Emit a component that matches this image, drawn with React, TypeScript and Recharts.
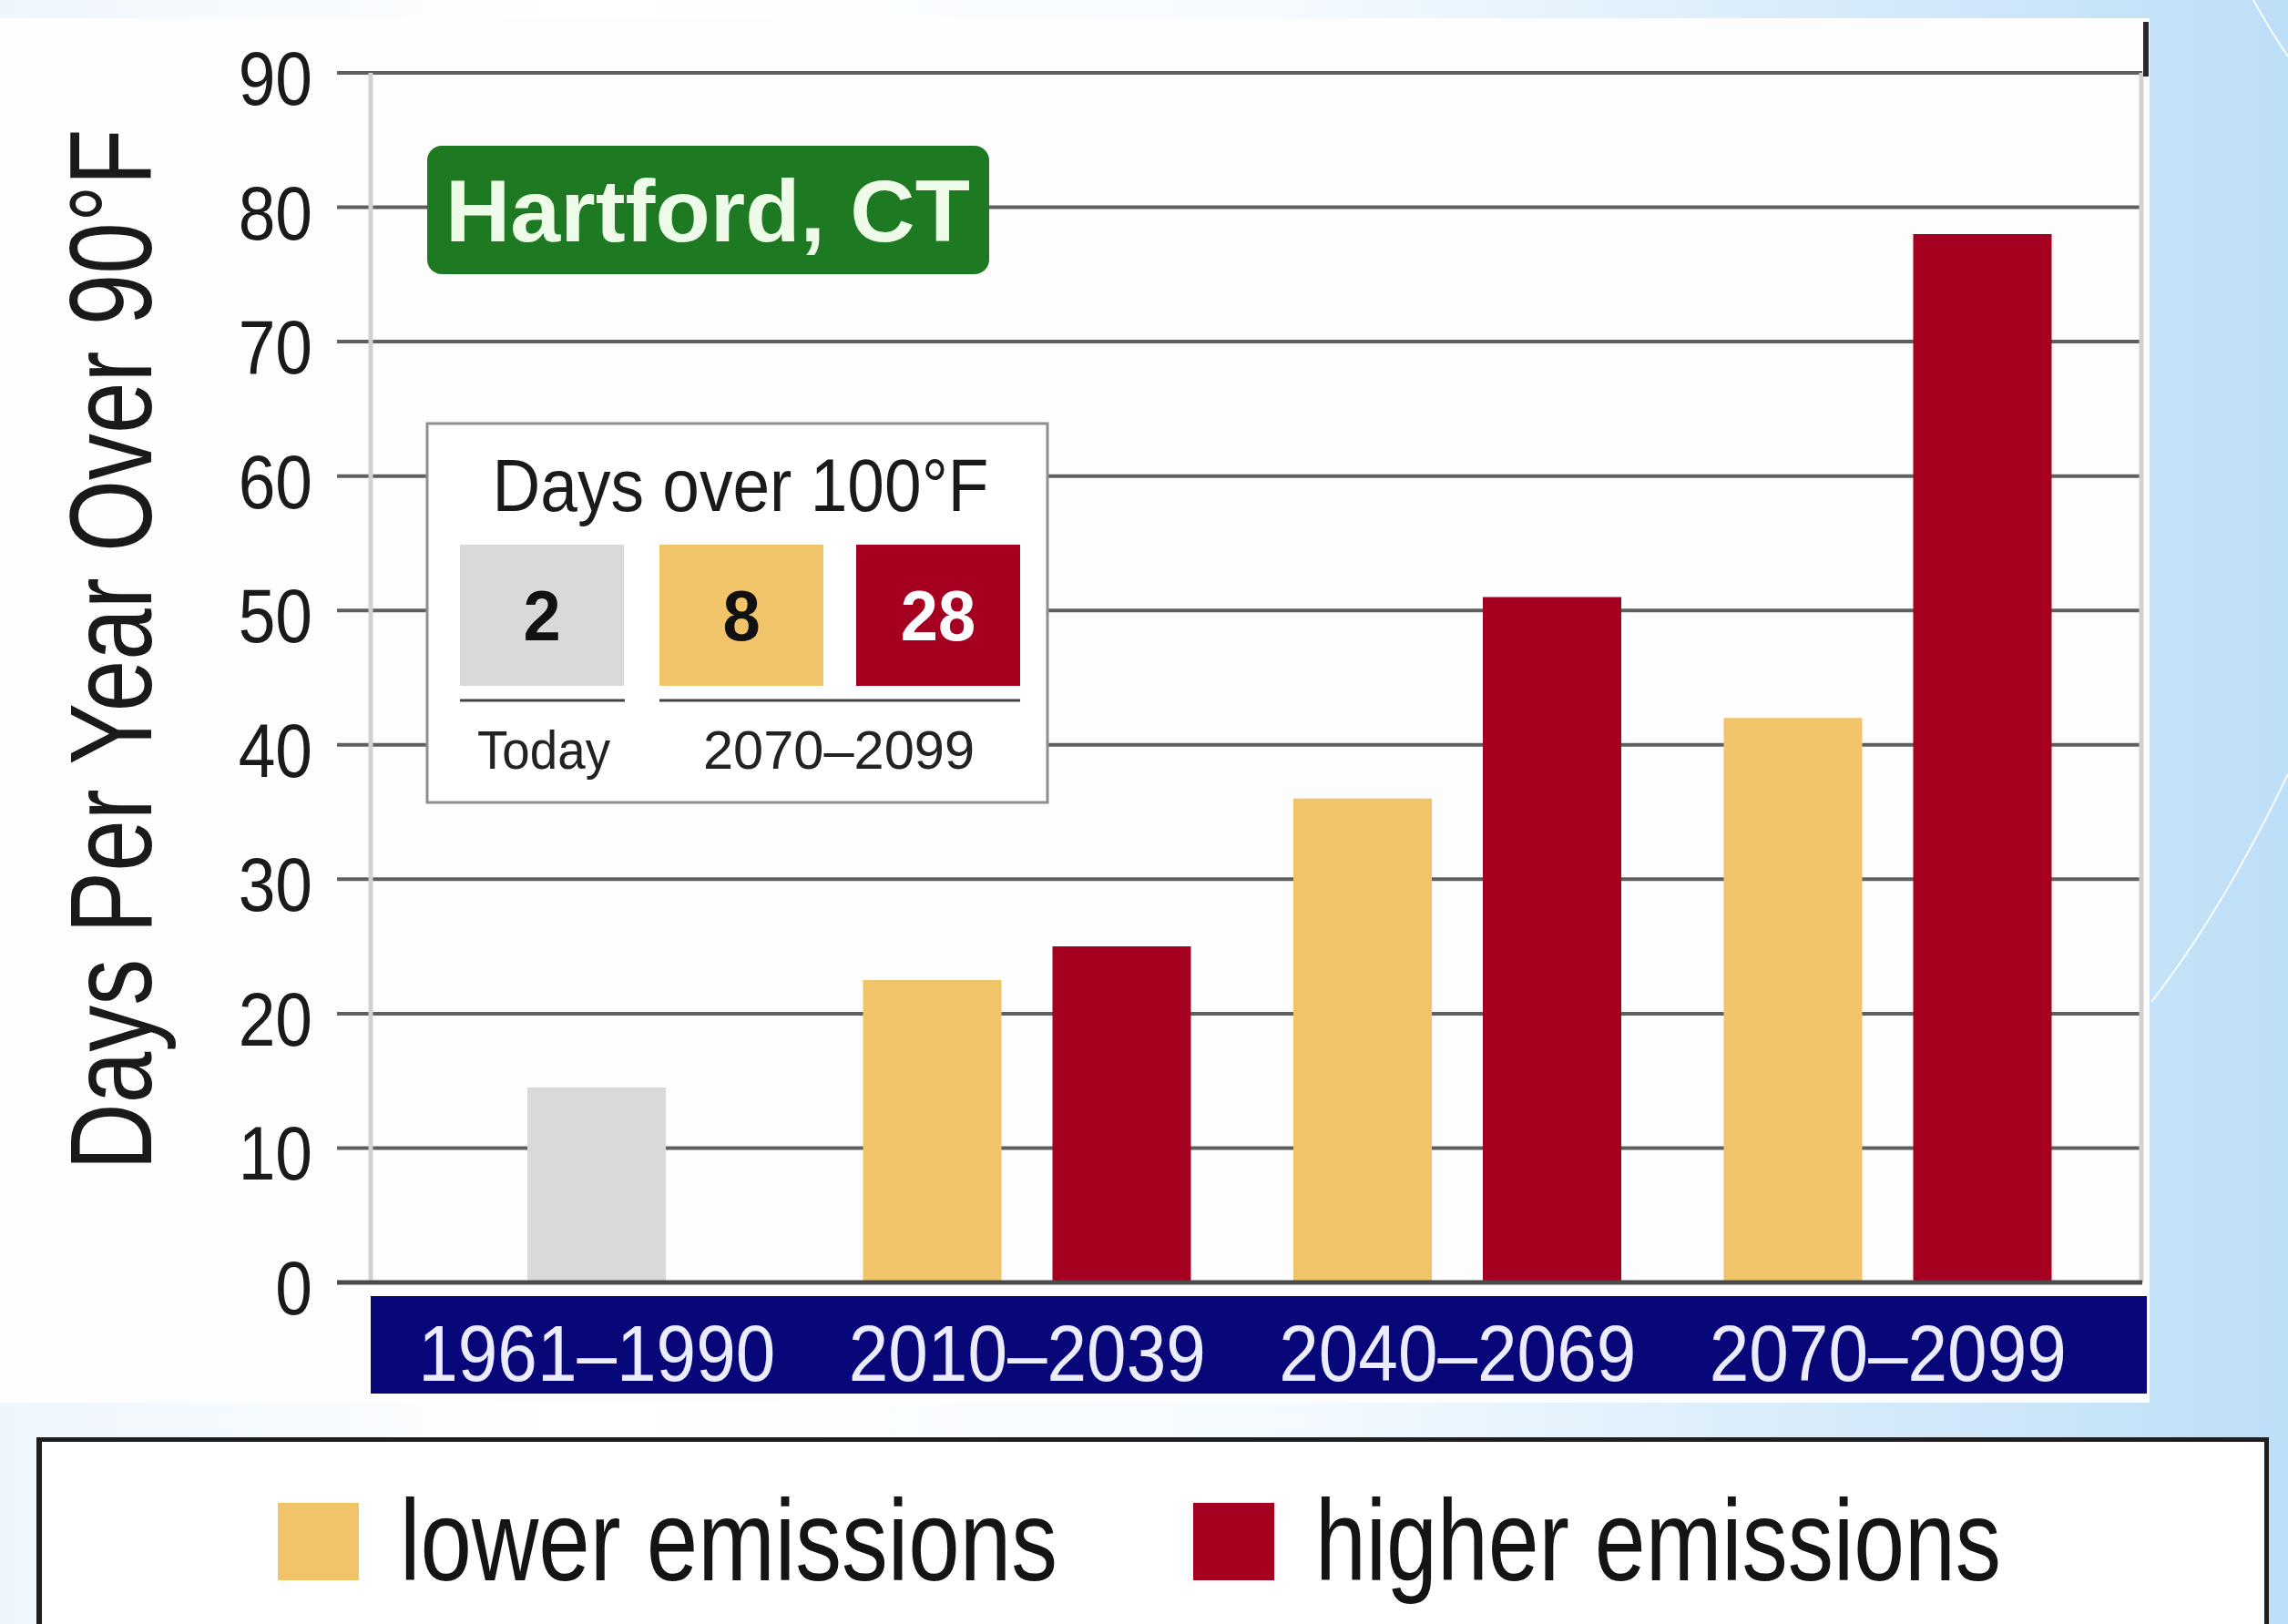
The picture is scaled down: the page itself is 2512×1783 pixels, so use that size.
import React from 'react';
import { BarChart, Bar, XAxis, YAxis, CartesianGrid, Legend, Label } from 'recharts';

// Hartford, CT: days per year over 90°F by period and emissions scenario
const periods = ['1961–1990', '2010–2039', '2040–2069', '2070–2099'];
const baselineDays = [14.5, null, null, null];
const lowerEmissions = [null, 22.5, 36, 42];
const higherEmissions = [null, 25, 51, 78];
const yTicks = [0, 10, 20, 30, 40, 50, 60, 70, 80, 90];

// inset: days over 100°F
const hotDayValues = [2, 8, 28];
const hotDayGroups = ['Today', '2070–2099'];

const GRAY = '#d9d9d9';
const YELLOW = '#f1c46a';
const RED = '#a5001f';
const NAVY = '#07077a';
const GREEN = '#1e7a22';
const FONT = '"Liberation Sans", Arial, sans-serif';

// the original type is a condensed face; squeeze Liberation Sans horizontally
const squeeze = (x: number, k: number) => `translate(${x},0) scale(${k},1) translate(${-x},0)`;

const data = periods.map((period, i) => ({
  period,
  baseline: baselineDays[i],
  lower: lowerEmissions[i],
  higher: higherEmissions[i],
}));

const PeriodTick = (props: any) => {
  const { x, y, payload } = props;
  return (
    <text
      x={x}
      y={y + 106}
      textAnchor="middle"
      fill="#ececff"
      fontSize={88}
      fontFamily={FONT}
      textLength={392}
      lengthAdjust="spacingAndGlyphs"
    >
      {payload.value}
    </text>
  );
};

const ValueTick = (props: any) => {
  const { x, y, payload } = props;
  return (
    <text x={x} y={y} dy={35} textAnchor="end" fill="#1a1a1a" fontSize={84} fontFamily={FONT} transform={squeeze(x, 0.87)}>
      {payload.value}
    </text>
  );
};

const AxisTitle = (props: any) => {
  const { viewBox } = props;
  const cx = viewBox.x + 166;
  const cy = viewBox.y + viewBox.height / 2 - 31;
  return (
    <text
      x={cx}
      y={cy}
      transform={`rotate(-90, ${cx}, ${cy}) ${squeeze(cx, 0.795)}`}
      textAnchor="middle"
      fill="#1a1a1a"
      fontSize={128}
      fontFamily={FONT}
    >
      Days Per Year Over 90°F
    </text>
  );
};

const legendOrder = ['lower emissions', 'higher emissions'];
const legendSwatchX = [259, 1264];
const legendTextWidth = [722, 753];

const LegendBox = (props: any) => {
  const items = (props.payload || [])
    .filter((p: any) => legendOrder.includes(p.value))
    .sort((a: any, b: any) => legendOrder.indexOf(a.value) - legendOrder.indexOf(b.value));
  return (
    <div
      style={{
        position: 'relative',
        width: '100%',
        height: '100%',
        boxSizing: 'border-box',
        background: '#fff',
        borderTop: '5px solid #1e1e1e',
        borderLeft: '6px solid #1e1e1e',
        borderRight: '5px solid #1e1e1e',
      }}
    >
      <svg width={2440} height={205} style={{ position: 'absolute', left: 0, top: 0 }}>
        {items.map((entry: any, i: number) => (
          <g key={entry.value}>
            <rect x={legendSwatchX[i]} y={67} width={89} height={85} fill={entry.color} />
            <text
              x={legendSwatchX[i] + 134}
              y={152}
              fill="#141414"
              fontSize={126}
              fontFamily={FONT}
              textLength={legendTextWidth[i]}
              lengthAdjust="spacingAndGlyphs"
            >
              {entry.value}
            </text>
          </g>
        ))}
      </svg>
    </div>
  );
};

const squareX = [505, 724, 940];

const Overlay = () => (
  <svg width={2512} height={1783} style={{ position: 'absolute', left: 0, top: 0, pointerEvents: 'none' }}>
    {/* city badge */}
    <rect x={469} y={160} width={617} height={141} rx={16} fill={GREEN} />
    <text
      x={777}
      y={265}
      textAnchor="middle"
      fill="#effbe9"
      fontSize={96}
      fontWeight="bold"
      fontFamily={FONT}
      textLength={576}
      lengthAdjust="spacingAndGlyphs"
    >
      Hartford, CT
    </text>

    {/* days over 100°F inset */}
    <rect x={469} y={465} width={681} height={416} fill="#fff" stroke="#8f8f8f" strokeWidth={3} />
    <text
      x={813}
      y={561}
      textAnchor="middle"
      fill="#1a1a1a"
      fontSize={82}
      fontFamily={FONT}
      textLength={545}
      lengthAdjust="spacingAndGlyphs"
    >
      Days over 100°F
    </text>
    {hotDayValues.map((v, i) => (
      <g key={i}>
        <rect x={squareX[i]} y={598} width={180} height={155} fill={[GRAY, YELLOW, RED][i]} />
        <text
          x={squareX[i] + 90}
          y={703}
          textAnchor="middle"
          fontSize={78}
          fontWeight="bold"
          fontFamily={FONT}
          fill={i === 2 ? '#fff' : '#111'}
          transform={squeeze(squareX[i] + 90, 0.95)}
        >
          {v}
        </text>
      </g>
    ))}
    <line x1={505} x2={686} y1={769} y2={769} stroke="#444" strokeWidth={3} />
    <line x1={724} x2={1120} y1={769} y2={769} stroke="#444" strokeWidth={3} />
    <text x={597} y={844} textAnchor="middle" fontSize={60} fontFamily={FONT} fill="#222" textLength={146} lengthAdjust="spacingAndGlyphs">
      {hotDayGroups[0]}
    </text>
    <text x={921} y={844} textAnchor="middle" fontSize={60} fontFamily={FONT} fill="#222" textLength={298} lengthAdjust="spacingAndGlyphs">
      {hotDayGroups[1]}
    </text>

    {/* frame stub and background arcs */}
    <line x1={2356} x2={2356} y1={24} y2={84} stroke="#2a2a2a" strokeWidth={6} />
    <path d="M 2362 1100 Q 2440 1000 2512 850" stroke="#ffffff" strokeWidth={2} fill="none" opacity={0.9} />
    <path d="M 2474 0 Q 2494 36 2512 62" stroke="#ffffff" strokeWidth={2} fill="none" opacity={0.9} />
  </svg>
);

export default function App() {
  return (
    <div
      style={{
        position: 'fixed',
        left: 0,
        top: 0,
        width: 2512,
        height: 1783,
        overflow: 'hidden',
        background: 'linear-gradient(90deg, #eef6fc 0%, #ffffff 25%, #f6fbff 55%, #cde6f9 88%, #bddff7 100%)',
      }}
    >
      <div style={{ position: 'absolute', left: 0, top: 20, width: 2360, height: 1520, background: '#fdfdfd' }} />
      <div style={{ position: 'absolute', left: 407, top: 1423, width: 1950, height: 107, background: NAVY }} />
      <div style={{ position: 'absolute', left: 0, top: 0 }}>
        <BarChart
          width={2512}
          height={1783}
          data={data}
          margin={{ top: 80, right: 160, bottom: 255, left: 0 }}
          barGap={56}
        >
          <CartesianGrid vertical={false} stroke="#5f5f5f" strokeWidth={4} />
          <CartesianGrid horizontal={false} verticalPoints={[407, 2351]} stroke="#d2d2d2" strokeWidth={5} />
          <XAxis
            dataKey="period"
            height={120}
            interval={0}
            tickLine={false}
            tickSize={0}
            axisLine={{ stroke: '#4a4a4a', strokeWidth: 5 }}
            padding={{ left: 49, right: 43 }}
            tick={<PeriodTick />}
          />
          <XAxis xAxisId="base" dataKey="period" hide padding={{ left: 49, right: 43 }} />
          <YAxis
            width={370}
            domain={[0, 90]}
            ticks={yTicks}
            interval={0}
            tickLine={false}
            axisLine={false}
            tickSize={0}
            tickMargin={27}
            tick={<ValueTick />}
          >
            <Label content={<AxisTitle />} />
          </YAxis>
          <Bar xAxisId="base" dataKey="baseline" name="1961–1990" fill={GRAY} barSize={152} legendType="none" isAnimationActive={false} />
          <Bar dataKey="lower" name="lower emissions" fill={YELLOW} barSize={152} isAnimationActive={false} />
          <Bar dataKey="higher" name="higher emissions" fill={RED} barSize={152} isAnimationActive={false} />
          <Legend
            layout="vertical"
            align="center"
            verticalAlign="middle"
            content={<LegendBox />}
            wrapperStyle={{ position: 'absolute', left: 40, top: 1578, width: 2451, height: 210 }}
          />
        </BarChart>
      </div>
      <Overlay />
    </div>
  );
}
